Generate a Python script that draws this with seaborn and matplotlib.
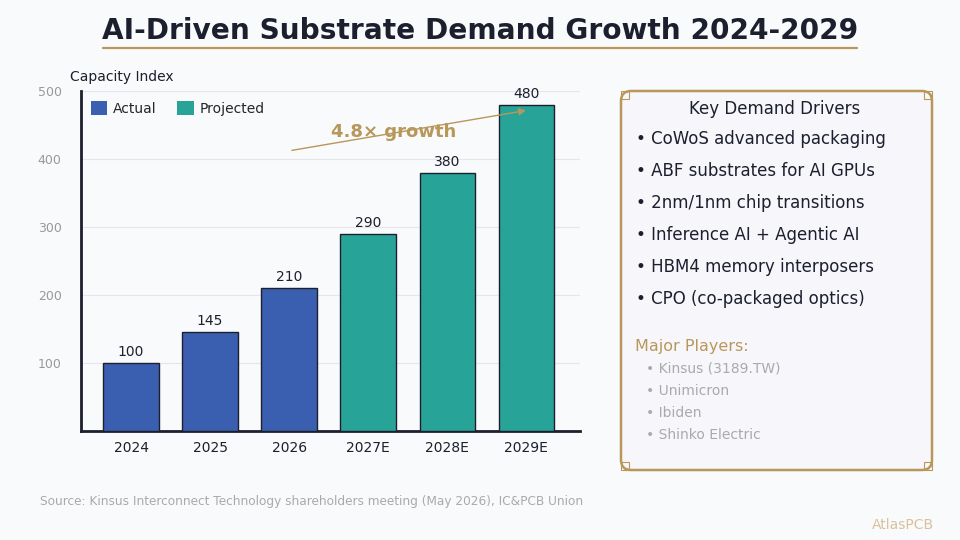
import pandas as pd
import numpy as np
import matplotlib
matplotlib.use('Agg')
import matplotlib.pyplot as plt
import seaborn as sns
from matplotlib.patches import FancyBboxPatch, Rectangle
from matplotlib.lines import Line2D

# --- data ---
years = ['2024', '2025', '2026', '2027E', '2028E', '2029E']
capacity = [100, 145, 210, 290, 380, 480]
status = ['Actual', 'Actual', 'Actual', 'Projected', 'Projected', 'Projected']

drivers = [
    'CoWoS advanced packaging',
    'ABF substrates for AI GPUs',
    '2nm/1nm chip transitions',
    'Inference AI + Agentic AI',
    'HBM4 memory interposers',
    'CPO (co-packaged optics)',
]
players = ['Kinsus (3189.TW)', 'Unimicron', 'Ibiden', 'Shinko Electric']

df = pd.DataFrame({'year': years, 'capacity': capacity, 'status': status})

# --- colours ---
bg = '#f9fafc'
blue = '#3a5fb0'
teal = '#27a497'
gold = '#b8975a'
dark = '#1c1f2e'
grey = '#999999'

sns.set_style('white')
plt.rcParams['font.family'] = ['DejaVu Sans']

fig = plt.figure(figsize=(9.6, 5.4), dpi=100, facecolor=bg)

# --- title ---
fig.text(480, 540 - 31, 'AI-Driven Substrate Demand Growth 2024-2029',
         transform=None, ha='center', va='center', fontsize=20.2,
         fontweight='bold', color=dark)
fig.add_artist(Line2D([103, 857], [540 - 48, 540 - 48], transform=None,
                      color=gold, lw=1.6))

# --- bar chart ---
ax = fig.add_axes([81 / 960, 109 / 540, 499 / 960, 340 / 540])
ax.set_facecolor(bg)
sns.barplot(data=df, x='year', y='capacity', hue='status', dodge=False,
            palette={'Actual': blue, 'Projected': teal}, width=0.7,
            saturation=1, edgecolor=dark, linewidth=1, ax=ax, zorder=3)

ax.set_xlim(-0.633, 5.68)
ax.set_ylim(0, 500)
ax.set_yticks([100, 200, 300, 400, 500])
ax.yaxis.grid(True, color='#e6e6ea', lw=0.8, zorder=0)
ax.tick_params(axis='y', length=0, labelsize=9, labelcolor=grey, pad=14)
ax.tick_params(axis='x', length=0, labelsize=10, labelcolor=dark, pad=7)
ax.set_xlabel('')
ax.set_ylabel('')
for side in ['top', 'right']:
    ax.spines[side].set_visible(False)
ax.spines['left'].set_color(dark)
ax.spines['left'].set_linewidth(2)
ax.spines['bottom'].set_color(dark)
ax.spines['bottom'].set_linewidth(2)
ax.text(-0.022, 1.04, 'Capacity Index', transform=ax.transAxes, ha='left',
        va='center', fontsize=10, color=dark)

for i, v in enumerate(capacity):
    ax.text(i, v + 6, str(v), ha='center', va='bottom', fontsize=10,
            color=dark, zorder=4)

leg = ax.legend(loc='upper left', frameon=False, fontsize=10,
                handlelength=1.2, handleheight=1.2, borderaxespad=0.3,
                ncol=2, columnspacing=1.5, handletextpad=0.4,
                bbox_to_anchor=(0.0, 1.0))
for h in leg.legend_handles:
    h.set_edgecolor('none')

ax.annotate('', xy=(5.03, 472), xytext=(2.0, 412),
            arrowprops=dict(arrowstyle='-|>', color=gold, lw=1,
                            mutation_scale=10), zorder=5)
ax.text(3.32, 439, '4.8\u00d7 growth', ha='center', va='center',
        fontsize=13, fontweight='bold', color=gold, zorder=5)

# --- side panel ---
px0, py0, px1, py1 = 621, 540 - 470, 932, 540 - 91
panel = FancyBboxPatch((px0, py0), px1 - px0, py1 - py0,
                       boxstyle='round,pad=0,rounding_size=10',
                       transform=None, facecolor='#f7f7fb',
                       edgecolor=gold, lw=1.8)
fig.add_artist(panel)
for cx, cy in [(px0, py1 - 8), (px1 - 8, py1 - 8), (px0, py0), (px1 - 8, py0)]:
    fig.add_artist(Rectangle((cx, cy), 8, 8, transform=None,
                             facecolor='none', edgecolor=gold, lw=0.8))

fig.text(775, 540 - 109, 'Key Demand Drivers', transform=None, ha='center',
         va='center', fontsize=12, color=dark)
for k, d in enumerate(drivers):
    fig.text(636, 540 - (139 + 32 * k), '\u2022 ' + d, transform=None,
             ha='left', va='center', fontsize=12, color=dark)

fig.text(635, 540 - 347, 'Major Players:', transform=None, ha='left',
         va='center', fontsize=11.5, color=gold)
for k, p in enumerate(players):
    fig.text(646, 540 - (369 + 22 * k), '\u2022 ' + p, transform=None,
             ha='left', va='center', fontsize=10, color='#aaaaaa')

# --- footer ---
fig.text(40, 540 - 502, 'Source: Kinsus Interconnect Technology shareholders '
         'meeting (May 2026), IC&PCB Union', transform=None, ha='left',
         va='center', fontsize=8.7, color='#aaaaaa')
fig.text(934, 540 - 525, 'AtlasPCB', transform=None, ha='right',
         va='center', fontsize=10, color='#d9c29a')

fig.savefig('out.png', dpi=100, facecolor=bg)
